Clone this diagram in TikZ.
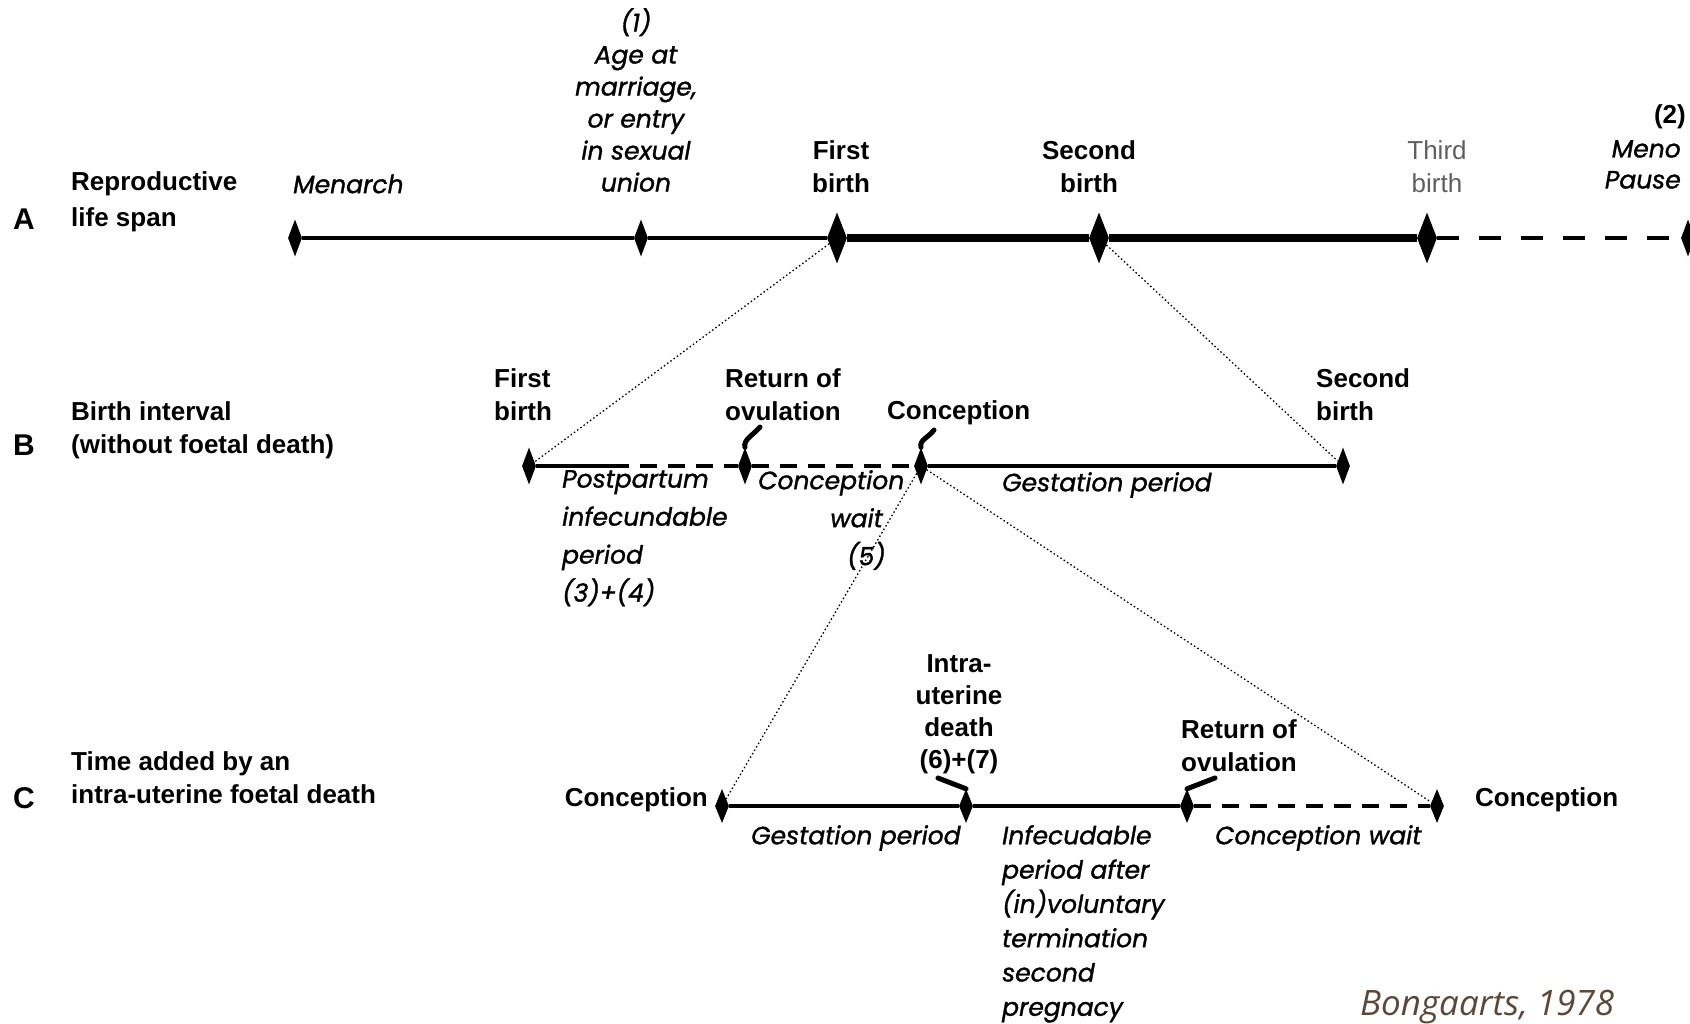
\documentclass[tikz,border=0pt]{standalone}
\usepackage{fontspec}
\setmainfont{Liberation Sans}
\newfontfamily\gothic{Poppins}[FakeBold=1.2]
\newfontfamily\citefont{Open Sans}
\usetikzlibrary{shapes.geometric}

\definecolor{citebrown}{RGB}{92,72,56}
\definecolor{thirdgray}{RGB}{95,95,95}

\begin{document}
\begin{tikzpicture}[x=1pt, y=-1pt,
    dia/.style={diamond, fill=black, inner sep=0pt, minimum width=14pt, minimum height=37pt},
    bigdia/.style={dia, minimum width=20pt, minimum height=51pt},
    lab/.style={font=\fontsize{26}{33}\selectfont\bfseries, inner sep=0pt},
    per/.style={font=\gothic\itshape\fontsize{25}{36}\selectfont, inner sep=0pt},
    rowlet/.style={font=\fontsize{30}{36}\selectfont\bfseries, inner sep=0pt},
    tl/.style={line width=4.5pt},
    tlheavy/.style={line width=8.5pt},
    tldash/.style={line width=4pt, dash pattern=on 17pt off 11pt},
    link/.style={line width=1.3pt, dash pattern=on 1.5pt off 2.5pt},
    tick/.style={line width=5pt, line cap=round}]

\useasboundingbox (0,0) rectangle (1690,1024);

% Row letters
\foreach \y/\lab in {219/A, 445/B, 798/C} {
    \node[rowlet] at (24,\y) {\lab};
}

% ---------- A: reproductive life span ----------
\def\ya{238}
\node[dia] (men) at (295,\ya) {};
\node[dia] (age) at (641,\ya) {};
\node[bigdia] (fbA) at (837,\ya) {};
\node[bigdia] (sbA) at (1099,\ya) {};
\node[bigdia] (tbA) at (1427,\ya) {};
\node[dia] (meno) at (1688,\ya) {};

\draw[tl] (men) -- (age) -- (fbA);
\draw[tlheavy] (fbA) -- (sbA) -- (tbA);
\draw[tldash, dash pattern=on 22pt off 20pt] (tbA) -- (meno);

\node[lab, anchor=north west, align=left] at (71,171) {Reproductive\\[3pt]life span};
\node[per, anchor=west] at (293,184) {Menarch};
\node[per, anchor=north, align=center, font=\gothic\itshape\fontsize{25}{32}\selectfont] at (636,8)
    {(1)\\Age at\\marriage,\\or entry\\in sexual\\union};
\node[lab, anchor=north, align=center] at (841,140) {First\\birth};
\node[lab, anchor=north, align=center] at (1089,140) {Second\\birth};
\node[lab, anchor=north, align=center, font=\fontsize{26}{33}\selectfont, text=thirdgray] at (1437,140) {Third\\birth};
\node[lab, anchor=east] at (1686,117) {(2)};
\node[per, anchor=north east, align=right, font=\gothic\itshape\fontsize{25}{31}\selectfont] at (1681,140) {Meno\\Pause};

% ---------- B: birth interval ----------
\def\yb{466}
\node[dia] (fbB) at (529,\yb) {};
\node[dia] (rovB) at (745,\yb) {};
\node[dia] (conB) at (921,\yb) {};
\node[dia] (sbB) at (1343,\yb) {};
\coordinate (ppend) at (612,\yb);

\draw[tl] (fbB) -- (ppend);
\draw[tldash] (ppend) -- (rovB) -- (conB);
\draw[tl] (conB) -- (sbB);

% small marks on the events
\draw[tick] (rovB.north) .. controls (743,440) and (752,436) .. (760,427);
\draw[tick] (conB.north) .. controls (919,440) and (928,438) .. (934,430);

\node[lab, anchor=north west, align=left] at (71,401) {Birth interval\\(without foetal death)};
\node[lab, anchor=north west, align=left] at (494,368) {First\\birth};
\node[lab, anchor=north west, align=left] at (725,368) {Return of\\ovulation};
\node[lab, anchor=west] at (887,413) {Conception};
\node[lab, anchor=north west, align=left] at (1316,368) {Second\\birth};

\node[per, anchor=north west, align=left, font=\gothic\itshape\fontsize{25}{38}\selectfont] at (562,470)
    {Postpartum\\infecundable\\period\\(3)+(4)};
\node[per, anchor=north west, align=left, font=\gothic\itshape\fontsize{25}{38}\selectfont] at (758,470)
    {Conception\\\hspace*{72pt}wait\\\hspace*{89pt}(5)};
\node[per, anchor=west] at (1002,485) {Gestation period};

% ---------- C: intra-uterine foetal death ----------
\def\yc{806}
\node[dia, minimum height=34pt] (conC) at (722,\yc) {};
\node[dia, minimum height=34pt] (iud) at (966,\yc) {};
\node[dia, minimum height=34pt] (rovC) at (1187,\yc) {};
\node[dia, minimum height=34pt] (conD) at (1437,\yc) {};

\draw[tl] (conC) -- (iud) -- (rovC);
\draw[tldash] (rovC) -- (conD);

\draw[tick] (938,778) -- (iud.north);
\draw[tick] (1215,778) -- (rovC.north);

\node[lab, anchor=north west, align=left] at (71,751) {Time added by an\\intra-uterine foetal death};
\node[lab, anchor=east] at (708,800) {Conception};
\node[lab, anchor=north, align=center, font=\fontsize{26}{32}\selectfont\bfseries] at (959,654)
    {Intra-\\uterine\\death\\(6)+(7)};
\node[lab, anchor=north west, align=left] at (1181,719) {Return of\\ovulation};
\node[lab, anchor=west] at (1475,800) {Conception};

\node[per, anchor=west] at (751,838) {Gestation period};
\node[per, anchor=north west, align=left, font=\gothic\itshape\fontsize{25}{34.3}\selectfont] at (1002,825)
    {Infecudable\\period after\\(in)voluntary\\termination\\second\\pregnacy};
\node[per, anchor=west] at (1215,838) {Conception wait};

% ---------- zoom links between rows ----------
\draw[link] (fbA) -- (fbB);
\draw[link] (sbA) -- (sbB);
\draw[link] (conB) -- (conC);
\draw[link] (conB) -- (conD);

% Source
\node[anchor=west, inner sep=0pt, text=citebrown, font=\citefont\itshape\fontsize{35}{36}\selectfont] at (1360,1007) {Bongaarts, 1978};

\end{tikzpicture}
\end{document}
